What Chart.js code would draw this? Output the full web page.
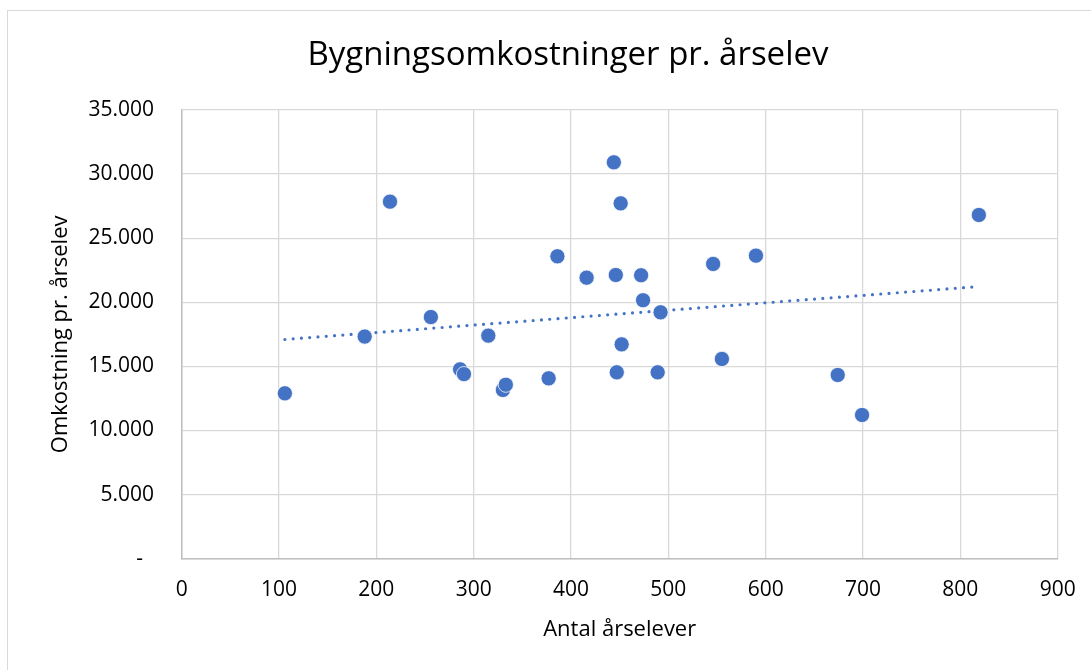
<!DOCTYPE html>
<html>
<head>
<meta charset="utf-8">
<script src="https://cdn.jsdelivr.net/npm/chart.js@4"></script>
<style>
  body { margin: 0; background: #fff; overflow: hidden; }
  #frame { position: absolute; left: 7px; top: 10px; width: 1122px; height: 700px; border: 1px solid #d9d9d9; }
  #chart { position: absolute; left: 0; top: 0; }
</style>
</head>
<body>
<div id="frame"><canvas id="chart" width="1120" height="659"></canvas></div>
<script>
// antal årselever pr. skole og bygningsomkostning pr. årselev (aflæst)
const elever = [106, 188, 214, 256, 286, 290, 315, 330, 333, 377, 386, 416, 444, 446, 447, 451, 452, 472, 474, 489, 492, 546, 555, 590, 674, 699, 819];
const omkostning = [12900, 17330, 27850, 18850, 14770, 14400, 17400, 13160, 13570, 14070, 23590, 21920, 30920, 22130, 14540, 27720, 16720, 22110, 20160, 14540, 19220, 22990, 15580, 23640, 14330, 11210, 26810];

// tendenslinje, endepunkter aflæst
const trendX = [106, 819];
const trendY = [17100, 21230];

const xTicks = [0, 100, 200, 300, 400, 500, 600, 700, 800, 900];
const yTicks = [0, 5000, 10000, 15000, 20000, 25000, 30000, 35000];

const blue = '#4472c4';

function fmtTusind(v) {
    if (v === 0) return '-  ';
    return String(v).replace(/\B(?=(\d{3})+(?!\d))/g, '.');
}

Chart.defaults.font.family = "'Open Sans', sans-serif";
Chart.defaults.color = '#000';

const ctx = document.getElementById('chart').getContext('2d');
new Chart(ctx, {
    type: 'scatter',
    data: {
        datasets: [{
            label: 'Omkostning',
            data: elever.map((x, i) => ({ x: x, y: omkostning[i] })),
            backgroundColor: blue,
            borderColor: '#ffffff',
            borderWidth: 0.75,
            pointRadius: 7.6
        }, {
            type: 'line',
            label: 'Tendens',
            data: trendX.map((x, i) => ({ x: x, y: trendY[i] })),
            borderColor: blue,
            borderWidth: 3.2,
            borderDash: [0, 8.3],
            borderCapStyle: 'round',
            pointRadius: 0,
            fill: false
        }]
    },
    options: {
        responsive: false,
        animation: false,
        plugins: {
            legend: { display: false },
            tooltip: { enabled: false },
            title: {
                display: true,
                text: 'Bygningsomkostninger pr. årselev',
                font: { size: 33, weight: 'normal' },
                color: '#000',
                padding: { top: 25, bottom: 34.4 }
            }
        },
        scales: {
            x: {
                type: 'linear',
                min: 0,
                max: 900,
                afterBuildTicks: s => { s.ticks = xTicks.map(v => ({ value: v })); },
                afterFit: s => { s.height = 111.3; },
                ticks: { font: { size: 21 }, padding: 19, maxRotation: 0 },
                grid: { color: '#d9d9d9', lineWidth: 1.3, drawTicks: false },
                border: { color: '#bfbfbf', width: 1.5 },
                title: {
                    display: true,
                    text: 'Antal årselever',
                    font: { size: 22 },
                    padding: { top: 0, bottom: 27 }
                }
            },
            y: {
                min: 0,
                max: 35000,
                afterBuildTicks: s => { s.ticks = yTicks.map(v => ({ value: v })); },
                afterFit: s => { s.width = 173.7; },
                ticks: { font: { size: 21 }, padding: 27.7, callback: v => fmtTusind(v) },
                grid: { color: '#d9d9d9', lineWidth: 1.3, drawTicks: false },
                border: { color: '#bfbfbf', width: 1.5 },
                title: {
                    display: true,
                    text: 'Omkostning pr. årselev',
                    font: { size: 22 },
                    padding: { top: 40, bottom: 0 }
                }
            },
            // tom højre akse, kun for at give plads til højre for plotområdet
            yRight: {
                position: 'right',
                min: 0,
                max: 35000,
                afterFit: s => { s.width = 70.3; },
                ticks: { display: false },
                grid: { display: false, drawTicks: false },
                border: { display: false }
            }
        }
    }
});
</script>
</body>
</html>
